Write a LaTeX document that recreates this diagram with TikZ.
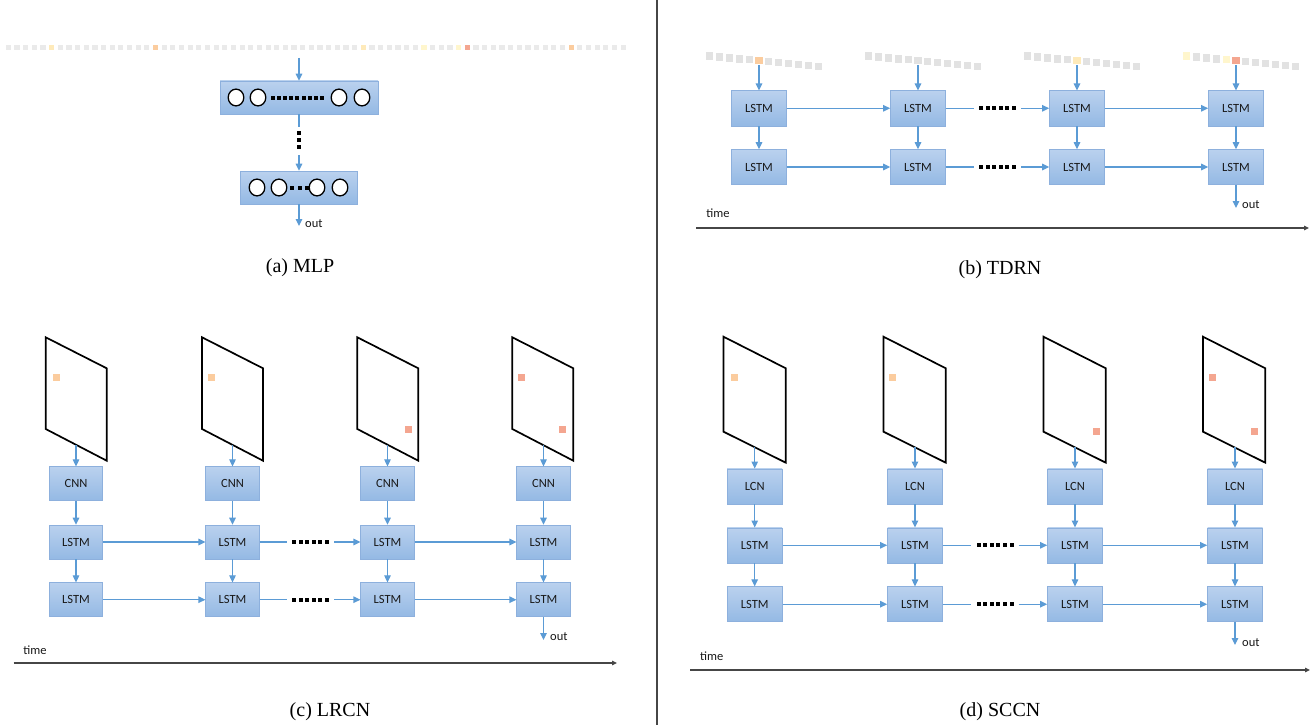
\documentclass[tikz,border=0pt]{standalone}
\usepackage{fontspec}
\setmainfont{Liberation Serif}
\newfontfamily\calib{Carlito}
\usetikzlibrary{arrows.meta}
\definecolor{arrblue}{RGB}{91,155,213}
\definecolor{boxtop}{RGB}{186,209,238}
\definecolor{boxbot}{RGB}{148,185,228}
\definecolor{boxline}{RGB}{141,176,221}
\definecolor{gsq}{RGB}{226,226,226}
\definecolor{lsq}{RGB}{234,234,234}
\definecolor{lorange}{RGB}{251,204,158}
\definecolor{salmon}{RGB}{244,166,144}
\definecolor{pyellow}{RGB}{254,234,186}
\definecolor{vpyellow}{RGB}{255,246,205}
\definecolor{axisgray}{RGB}{70,70,70}
\begin{document}
\begin{tikzpicture}[x=1pt,y=-1pt,
  blk/.style={rectangle, draw=boxline, line width=0.6pt, top color=boxtop, bottom color=boxbot, minimum width=54pt, minimum height=34pt, inner sep=0pt, font=\calib\fontsize{12.5}{14}\selectfont, text=black!90},
  arr/.style={draw=arrblue, line width=1.1pt, -{Triangle[length=7pt,width=6.5pt]}},
  ln/.style={draw=arrblue, line width=1.1pt},
  frame/.style={draw=black, line width=1.7pt, line join=miter},
  dotsbox/.style={minimum width=47pt, minimum height=4pt, inner sep=0pt},
  axis/.style={draw=axisgray, line width=1.1pt, -{Triangle[length=5pt,width=4.5pt]}},
  lbl/.style={font=\calib\fontsize{12.5}{14}\selectfont, inner sep=0pt, text=black!90},
  captext/.style={font=\fontsize{20}{24}\selectfont, inner sep=0pt},
  ring/.style={draw=black, line width=1.3pt, fill=white},
]
\useasboundingbox (0,0) rectangle (1315,725);
\fill[white] (0,0) rectangle (1315,725);
% divider
\draw[axisgray, line width=1.3pt] (657,0) -- (657,725);

% ===================== (a) MLP =====================
\foreach \i in {0,...,71} \fill[lsq] ({8.3+\i*8.66-2.6},44.7) rectangle ++(5.2,5.2);
\foreach \i/\cc in {5/pyellow,17/lorange,41/pyellow,48/vpyellow,52/vpyellow,53/salmon,65/lorange}
  \fill[\cc] ({8.3+\i*8.66-2.6},44.7) rectangle ++(5.2,5.2);
\coordinate (mIn) at (299,58);
\node[blk, minimum width=158pt, minimum height=33pt] (m1) at (299,97.5) {};
\foreach \cx in {236,258,339,362} \draw[ring] (\cx,97.5) ellipse [x radius=7.8, y radius=8.4];
\foreach \k in {0,...,8} \fill[black] ({272.7+\k*6.17-2},95.5) rectangle ++(4,4);
\coordinate (mD1) at (299,127);
\foreach \yy in {133,140,147} \fill[black] (297,{\yy-2}) rectangle ++(4,4);
\coordinate (mD2) at (299,155);
\node[blk, minimum width=117pt, minimum height=33pt] (m2) at (299,187.5) {};
\foreach \cx in {257,279,317,340} \draw[ring] (\cx,187.5) ellipse [x radius=7.8, y radius=8.4];
\foreach \dx in {292,299.6,307.2} \fill[black] ({\dx-2},185.5) rectangle ++(4,4);
\coordinate (mOut) at (299,226);
\draw[arr] (mIn) -- (m1.north);
\draw[ln] (m1.south) -- (mD1);
\draw[arr] (mD2) -- (m2.north);
\draw[arr] (m2.south) -- (mOut);
\node[lbl, anchor=west] (mOutL) at (305,223.5) {out};
\node[captext] (capA) at (300,268) {(a) MLP};

% ===================== (b) TDRN =====================
\foreach \c/\x in {1/759,2/918,3/1077,4/1236} {
  \foreach \i in {0,...,11} \fill[gsq] ({\x+(\i-5)*9.85-3.6},{56+\i*0.97-3.6}) rectangle ++(7.2,7.2);
  \coordinate (bS\c) at (\x,65.5);
  \node[blk, minimum width=55pt, minimum height=35pt] (bA\c) at (\x,108.3) {LSTM};
  \node[blk, minimum width=55pt, minimum height=35pt] (bB\c) at (\x,167) {LSTM};
}
\fill[lorange] ({759-3.6},{60.85-3.6}) rectangle ++(7.2,7.2);
\fill[pyellow] ({1077-3.6},{60.85-3.6}) rectangle ++(7.2,7.2);
\fill[vpyellow] ({1186.75-3.6},{56-3.6}) rectangle ++(7.2,7.2);
\fill[vpyellow] ({1226.15-3.6},{59.88-3.6}) rectangle ++(7.2,7.2);
\fill[salmon] ({1236-3.6},{60.85-3.6}) rectangle ++(7.2,7.2);
\foreach \c in {1,...,4} {
  \draw[arr] (bS\c) -- (bA\c);
  \draw[arr] (bA\c) -- (bB\c);
}
\node[dotsbox] (bDA) at (997.5,108.3) {};
\node[dotsbox] (bDB) at (997.5,167) {};
\foreach \k in {0,...,5} {
  \fill[black] ({981+\k*6.6-2},{108.3-2}) rectangle ++(4,4);
  \fill[black] ({981+\k*6.6-2},{167-2}) rectangle ++(4,4);
}
\draw[arr] (bA1) -- (bA2); \draw[ln] (bA2) -- (bDA); \draw[arr] (bDA) -- (bA3); \draw[arr] (bA3) -- (bA4);
\draw[arr] (bB1) -- (bB2); \draw[ln] (bB2) -- (bDB); \draw[arr] (bDB) -- (bB3); \draw[arr] (bB3) -- (bB4);
\coordinate (bO) at (1236,208);
\draw[arr] (bB4) -- (bO);
\node[lbl, anchor=west] (bOL) at (1242,205) {out};
\node[lbl] (bT) at (718,213) {time};
\coordinate (bX0) at (696,228);
\coordinate (bX1) at (1309,228);
\draw[axis] (bX0) -- (bX1);
\node[captext] (capB) at (1000,270) {(b) TDRN};

% ===================== (c) LRCN =====================
\foreach \c/\x/\L in {1/76/45.7, 2/232.5/202, 3/387.5/357.3, 4/543.5/512.3} {
  \draw[frame] (\L,337.3) -- (\L,429) -- ({\L+61},460.7) -- ({\L+61},368.3) -- cycle;
  \coordinate (cP\c) at (\x,444.9);
  \node[blk, minimum width=53.5pt] (cC\c) at (\x,483.7) {CNN};
  \node[blk, minimum width=53.5pt] (cA\c) at (\x,542) {LSTM};
  \node[blk, minimum width=53.5pt] (cB\c) at (\x,599.7) {LSTM};
  \draw[arr] (cP\c) -- (cC\c);
  \draw[arr] (cC\c) -- (cA\c);
  \draw[arr] (cA\c) -- (cB\c);
}
\fill[lorange] (52.5,373.8) rectangle ++(7,7);
\fill[lorange] (207.5,373.8) rectangle ++(7,7);
\fill[salmon] (404.8,425.8) rectangle ++(7,7);
\fill[salmon] (517.5,373.5) rectangle ++(7,7);
\fill[salmon] (558.5,426.2) rectangle ++(7,7);
\node[dotsbox] (cDA) at (310.5,542) {};
\node[dotsbox] (cDB) at (310.5,599.7) {};
\foreach \k in {0,...,5} {
  \fill[black] ({294+\k*6.6-2},{542-2}) rectangle ++(4,4);
  \fill[black] ({294+\k*6.6-2},{599.7-2}) rectangle ++(4,4);
}
\draw[arr] (cA1) -- (cA2); \draw[ln] (cA2) -- (cDA); \draw[arr] (cDA) -- (cA3); \draw[arr] (cA3) -- (cA4);
\draw[arr] (cB1) -- (cB2); \draw[ln] (cB2) -- (cDB); \draw[arr] (cDB) -- (cB3); \draw[arr] (cB3) -- (cB4);
\coordinate (cO) at (543.5,640);
\draw[arr] (cB4) -- (cO);
\node[lbl, anchor=west] (cOL) at (550,636.7) {out};
\node[lbl] (cT) at (35,650) {time};
\coordinate (cX0) at (13.5,663);
\coordinate (cX1) at (617,663);
\draw[axis] (cX0) -- (cX1);
\node[captext] (capC) at (330,712) {(c) LRCN};

% ===================== (d) SCCN =====================
\foreach \c/\x/\L in {1/754.7/723.5, 2/915/883.5, 3/1075/1043.5, 4/1235/1203} {
  \draw[frame] (\L,336.7) -- (\L,431.7) -- ({\L+62.3},462.7) -- ({\L+62.3},368.3) -- cycle;
  \coordinate (dP\c) at (\x,447.2);
  \node[blk, minimum width=55pt, minimum height=35pt] (dC\c) at (\x,486.3) {LCN};
  \node[blk, minimum width=55pt, minimum height=35pt] (dA\c) at (\x,545.3) {LSTM};
  \node[blk, minimum width=55pt, minimum height=35pt] (dB\c) at (\x,604.2) {LSTM};
  \draw[arr] (dP\c) -- (dC\c);
  \draw[arr] (dC\c) -- (dA\c);
  \draw[arr] (dA\c) -- (dB\c);
}
\fill[lorange] (730.5,374.2) rectangle ++(7,7);
\fill[lorange] (889,374.2) rectangle ++(7,7);
\fill[salmon] (1092.5,428.2) rectangle ++(7,7);
\fill[salmon] (1208.8,373.8) rectangle ++(7,7);
\fill[salmon] (1250.5,428.2) rectangle ++(7,7);
\node[dotsbox] (dDA) at (995,545.3) {};
\node[dotsbox] (dDB) at (995,604.2) {};
\foreach \k in {0,...,5} {
  \fill[black] ({978.5+\k*6.6-2},{545.3-2}) rectangle ++(4,4);
  \fill[black] ({978.5+\k*6.6-2},{604.2-2}) rectangle ++(4,4);
}
\draw[arr] (dA1) -- (dA2); \draw[ln] (dA2) -- (dDA); \draw[arr] (dDA) -- (dA3); \draw[arr] (dA3) -- (dA4);
\draw[arr] (dB1) -- (dB2); \draw[ln] (dB2) -- (dDB); \draw[arr] (dDB) -- (dB3); \draw[arr] (dB3) -- (dB4);
\coordinate (dO) at (1235,645);
\draw[arr] (dB4) -- (dO);
\node[lbl, anchor=west] (dOL) at (1242,642.7) {out};
\node[lbl] (dT) at (711.7,656) {time};
\coordinate (dX0) at (690,670);
\coordinate (dX1) at (1310,670);
\draw[axis] (dX0) -- (dX1);
\node[captext] (capD) at (1000,712) {(d) SCCN};
\end{tikzpicture}
\end{document}
